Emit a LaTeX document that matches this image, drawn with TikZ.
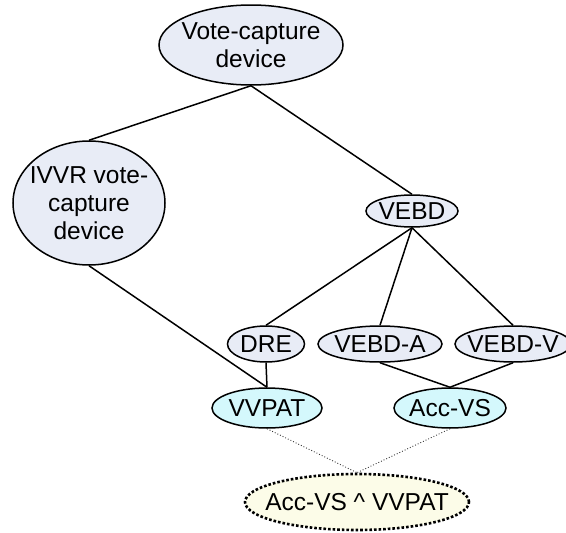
\documentclass[tikz,border=0pt]{standalone}
\usepackage{fontspec}
\setmainfont{Liberation Sans}
\usetikzlibrary{shapes.geometric}
\definecolor{topfill}{HTML}{E8ECF6}
\definecolor{cyanfill}{HTML}{D4F8FC}
\definecolor{yelfill}{HTML}{FCFCE8}
\tikzset{
  ell/.style={ellipse, draw=black, line width=1.5pt, inner sep=0pt},
  txt/.style={inner sep=0pt, align=center, font=\fontsize{24.5}{28}\selectfont},
  grey/.style={ell, fill=topfill},
  cyanell/.style={ell, fill=cyanfill},
  yelell/.style={ell, fill=yelfill, line width=2.6pt, dotted},
  link/.style={draw=black, line width=1.5pt},
  dotlink/.style={draw=black!80, line width=0.9pt, dotted},
}
\begin{document}
\begin{tikzpicture}[x=1pt,y=-1pt]
\useasboundingbox (0,0) rectangle (566,533);
\node[grey, minimum width=184, minimum height=80] (vc) at (251,45) {};
\node[txt] (vct) at (vc) {Vote-capture\\device};
\node[grey, minimum width=152, minimum height=124] (ivvr) at (89,203) {};
\node[txt] (ivvrt) at (ivvr) {IVVR vote-\\capture\\device};
\node[grey, minimum width=92, minimum height=32] (vebd) at (412,211) {};
\node[txt] (vebdt) at (vebd) {VEBD};
\node[grey, minimum width=77, minimum height=36] (dre) at (266,344) {};
\node[txt] (dret) at (dre) {DRE};
\node[grey, minimum width=124, minimum height=36] (vebda) at (380,344) {};
\node[txt] (vebdat) at (vebda) {VEBD-A};
\node[grey, minimum width=116, minimum height=36] (vebdv) at (513,344) {};
\node[txt] (vebdvt) at (vebdv) {VEBD-V};
\node[cyanell, minimum width=110, minimum height=40] (vvpat) at (267,408) {};
\node[txt] (vvpatt) at (vvpat) {VVPAT};
\node[cyanell, minimum width=112, minimum height=40] (accvs) at (450,408) {};
\node[txt] (accvst) at (accvs) {Acc-VS};
\node[yelell, minimum width=224, minimum height=56] (both) at (357,502) {};
\node[txt] (botht) at (both) {Acc-VS \^{} VVPAT};
\draw[link] (vc.south) -- (ivvr.north);
\draw[link] (vc.south) -- (vebd.north);
\draw[link] (ivvr.south) -- (vvpat.north);
\draw[link] (vebd.south) -- (dre.north);
\draw[link] (vebd.south) -- (vebda.north);
\draw[link] (vebd.south) -- (vebdv.north);
\draw[link] (dre.south) -- (vvpat.north);
\draw[link] (vebda.south) -- (accvs.north);
\draw[link] (vebdv.south) -- (accvs.north);
\draw[dotlink] (vvpat.south) -- (both.north);
\draw[dotlink] (accvs.south) -- (both.north);
\end{tikzpicture}
\end{document}
